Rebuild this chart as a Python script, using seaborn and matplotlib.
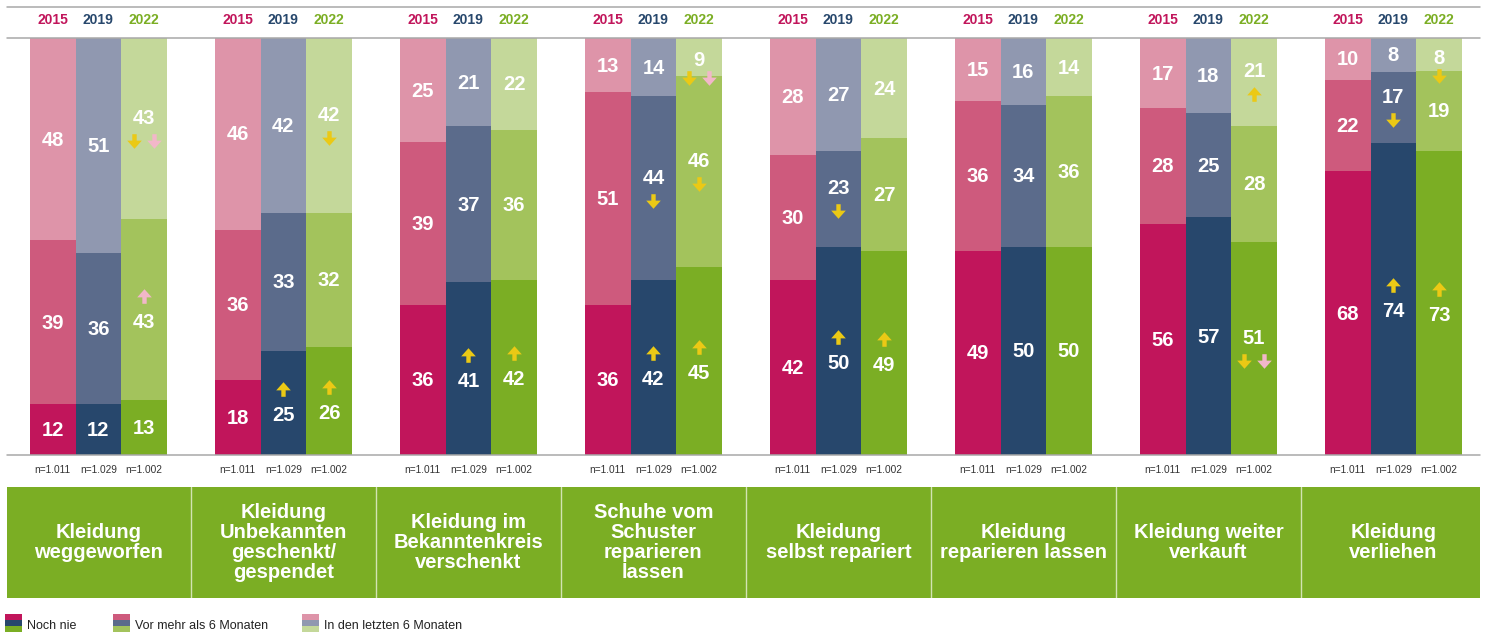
import numpy as np
import pandas as pd
import matplotlib
matplotlib.use("Agg")
import matplotlib.pyplot as plt
import seaborn as sns
from matplotlib.lines import Line2D
from matplotlib.patches import Rectangle
from matplotlib.transforms import offset_copy, blended_transform_factory

# ---------------- data ----------------
categories = [
    "Kleidung\nweggeworfen",
    "Kleidung\nUnbekannten\ngeschenkt/\ngespendet",
    "Kleidung im\nBekanntenkreis\nverschenkt",
    "Schuhe vom\nSchuster\nreparieren\nlassen",
    "Kleidung\nselbst repariert",
    "Kleidung\nreparieren lassen",
    "Kleidung weiter\nverkauft",
    "Kleidung\nverliehen",
]
years = ["2015", "2019", "2022"]
sample_sizes = ["n=1.011", "n=1.029", "n=1.002"]
segment_names = ["Noch nie", "Vor mehr als 6 Monaten", "In den letzten 6 Monaten"]

noch_nie = {
    "2015": [12, 18, 36, 36, 42, 49, 56, 68],
    "2019": [12, 25, 41, 42, 50, 50, 57, 74],
    "2022": [13, 26, 42, 45, 49, 50, 51, 73],
}
vor_mehr_6 = {
    "2015": [39, 36, 39, 51, 30, 36, 28, 22],
    "2019": [36, 33, 37, 44, 23, 34, 25, 17],
    "2022": [43, 32, 36, 46, 27, 36, 28, 19],
}
letzte_6 = {
    "2015": [48, 46, 25, 13, 28, 15, 17, 10],
    "2019": [51, 42, 21, 14, 27, 16, 18, 8],
    "2022": [43, 42, 22, 9, 24, 14, 21, 8],
}

# significance arrows: (category, year, segment, direction, compared with: y=previous wave, p=2015)
arrows = [
    (0, "2022", 2, "down", "yp"),
    (0, "2022", 1, "up", "p"),
    (1, "2019", 0, "up", "y"),
    (1, "2022", 0, "up", "y"),
    (1, "2022", 2, "down", "y"),
    (2, "2019", 0, "up", "y"),
    (2, "2022", 0, "up", "y"),
    (3, "2019", 0, "up", "y"),
    (3, "2022", 0, "up", "y"),
    (3, "2019", 1, "down", "y"),
    (3, "2022", 1, "down", "y"),
    (3, "2022", 2, "down", "yp"),
    (4, "2019", 0, "up", "y"),
    (4, "2022", 0, "up", "y"),
    (4, "2019", 1, "down", "y"),
    (6, "2022", 2, "up", "y"),
    (6, "2022", 0, "down", "yp"),
    (7, "2019", 0, "up", "y"),
    (7, "2022", 0, "up", "y"),
    (7, "2019", 1, "down", "y"),
    (7, "2022", 2, "down", "y"),
]

# ---------------- styles ----------------
palette = {
    "2015": ["#c1155b", "#ce5a7d", "#de94a9"],
    "2019": ["#27476c", "#5b6b8b", "#9098b0"],
    "2022": ["#7bae24", "#a3c35c", "#c4d89a"],
}
arrow_colors = {"y": "#ebc915", "p": "#f2b7c9"}
box_green = "#7bae24"
line_gray = "#a8a8a8"

sns.set_theme(style="white")
plt.rcParams["font.family"] = ["Liberation Sans", "DejaVu Sans"]

W, H = 1489, 632
fig = plt.figure(figsize=(W / 100, H / 100), dpi=100)


def fx(px):
    return px / W


def fy(py):
    return 1 - py / H


# bar axes: baseline at 455 px, top at 38 px
ax = fig.add_axes([fx(7), fy(455), fx(1480) - fx(7), (455 - 38) / H])
px_per_unit = (455 - 38) / 100

rows = []
for i, cat in enumerate(categories):
    for y in years:
        rows.append({"cat": cat, "idx": i, "year": y,
                     "nie": noch_nie[y][i], "vor": vor_mehr_6[y][i], "letzte": letzte_6[y][i]})
df = pd.DataFrame(rows)
df["total"] = df["nie"] + df["vor"] + df["letzte"]
df["h_bot"] = df["nie"] / df["total"] * 100
df["h_mid"] = (df["nie"] + df["vor"]) / df["total"] * 100
df["h_top"] = 100.0

width = 0.74
for level, col in [(2, "h_top"), (1, "h_mid"), (0, "h_bot")]:
    sns.barplot(data=df, x="cat", y=col, hue="year", order=categories, hue_order=years,
                palette={y: palette[y][level] for y in years}, width=width, gap=0,
                saturation=1, linewidth=0, errorbar=None, legend=False, ax=ax)

xmin, xmax = -0.494, 7.468
ax.set_xlim(xmin, xmax)
ax.set_ylim(0, 100)
ax.set(xlabel="", ylabel="", xticks=[], yticks=[])
sns.despine(ax=ax, left=True, bottom=True)
ax.axhline(0, color=line_gray, lw=1.1, clip_on=False, zorder=5)
ax.axhline(100, color=line_gray, lw=1.1, clip_on=False, zorder=5)
fig.add_artist(Line2D([fx(7), fx(1480)], [fy(7), fy(7)], color=line_gray, lw=1.1))


def bar_x(i, j):
    return i + (j - 1) * width / 3


def shifted(dx=0, dy=0):
    return offset_copy(ax.transData, fig=fig, x=dx, y=dy, units="dots")


up_arrow = [(0, 0.5), (0.5, -0.06), (0.15, -0.06), (0.15, -0.5),
            (-0.15, -0.5), (-0.15, -0.06), (-0.5, -0.06), (0, 0.5)]
down_arrow = [(x, -y) for x, y in up_arrow]

arrow_lookup = {(a[0], a[1], a[2]): a for a in arrows}

for _, r in df.iterrows():
    i, y = r["idx"], r["year"]
    j = years.index(y)
    xc = bar_x(i, j)
    bounds = [0, r["h_bot"], r["h_mid"], 100]
    values = [r["nie"], r["vor"], r["letzte"]]
    for s in range(3):
        lo, hi = bounds[s], bounds[s + 1]
        yc = (lo + hi) / 2
        num_dy, arr_dy = 0, None
        a = arrow_lookup.get((i, y, s))
        if a is not None:
            direction, comps = a[3], a[4]
            if (hi - lo) * px_per_unit < 45:
                num_dy, arr_dy = -3, -21.5
            elif direction == "up" and s < 2:
                num_dy, arr_dy = -11.5, 14
            else:
                num_dy, arr_dy = 11, -12.5
            shape = up_arrow if direction == "up" else down_arrow
            offs = [0] if len(comps) == 1 else [-10, 10]
            for c, dx in zip(comps, offs):
                ax.plot([xc], [yc], marker=shape, ms=10.5, mew=0, color=arrow_colors[c],
                        linestyle="none", transform=shifted(dx, arr_dy), zorder=6)
        ax.text(xc, yc, f"{values[s]}", transform=shifted(0, num_dy - 1),
                ha="center", va="center", color="white", fontsize=14.5,
                fontweight="bold", zorder=6)

# year headers and sample sizes
hdr = blended_transform_factory(ax.transData, fig.transFigure)
for i in range(len(categories)):
    for j, y in enumerate(years):
        ax.text(bar_x(i, j), fy(20), y, transform=hdr, ha="center", va="center",
                color=palette[y][0], fontsize=10, fontweight="bold")
        ax.text(bar_x(i, j), fy(470), sample_sizes[j], transform=hdr, ha="center",
                va="center", color="#333333", fontsize=7.3)

# green label boxes
ax2 = fig.add_axes([fx(7), fy(598), fx(1480) - fx(7), (598 - 487) / H])
ax2.set_facecolor(box_green)
ax2.set_xlim(xmin, xmax)
ax2.set_ylim(0, 1)
ax2.set(xticks=[], yticks=[])
for sp in ax2.spines.values():
    sp.set_visible(False)
for i in range(len(categories) - 1):
    ax2.axvline(i + 0.5, color="#d3e3b3", lw=1)
for i, cat in enumerate(categories):
    ax2.text(i, 0.5, cat, ha="center", va="center", color="white", fontsize=14.5,
             fontweight="bold", linespacing=1.06)

# legend with split swatches
legend_x = [5, 113, 302]
for k, name in enumerate(segment_names):
    x0 = legend_x[k]
    for j, y in enumerate(years):
        fig.add_artist(Rectangle((fx(x0), fy(614 + 6 * (j + 1))), fx(17), 6 / H,
                                 transform=fig.transFigure, color=palette[y][k], lw=0))
    fig.text(fx(x0 + 22), fy(626), name, ha="left", va="center",
             fontsize=9, color="#222222")

fig.savefig("out.png", dpi=100)
